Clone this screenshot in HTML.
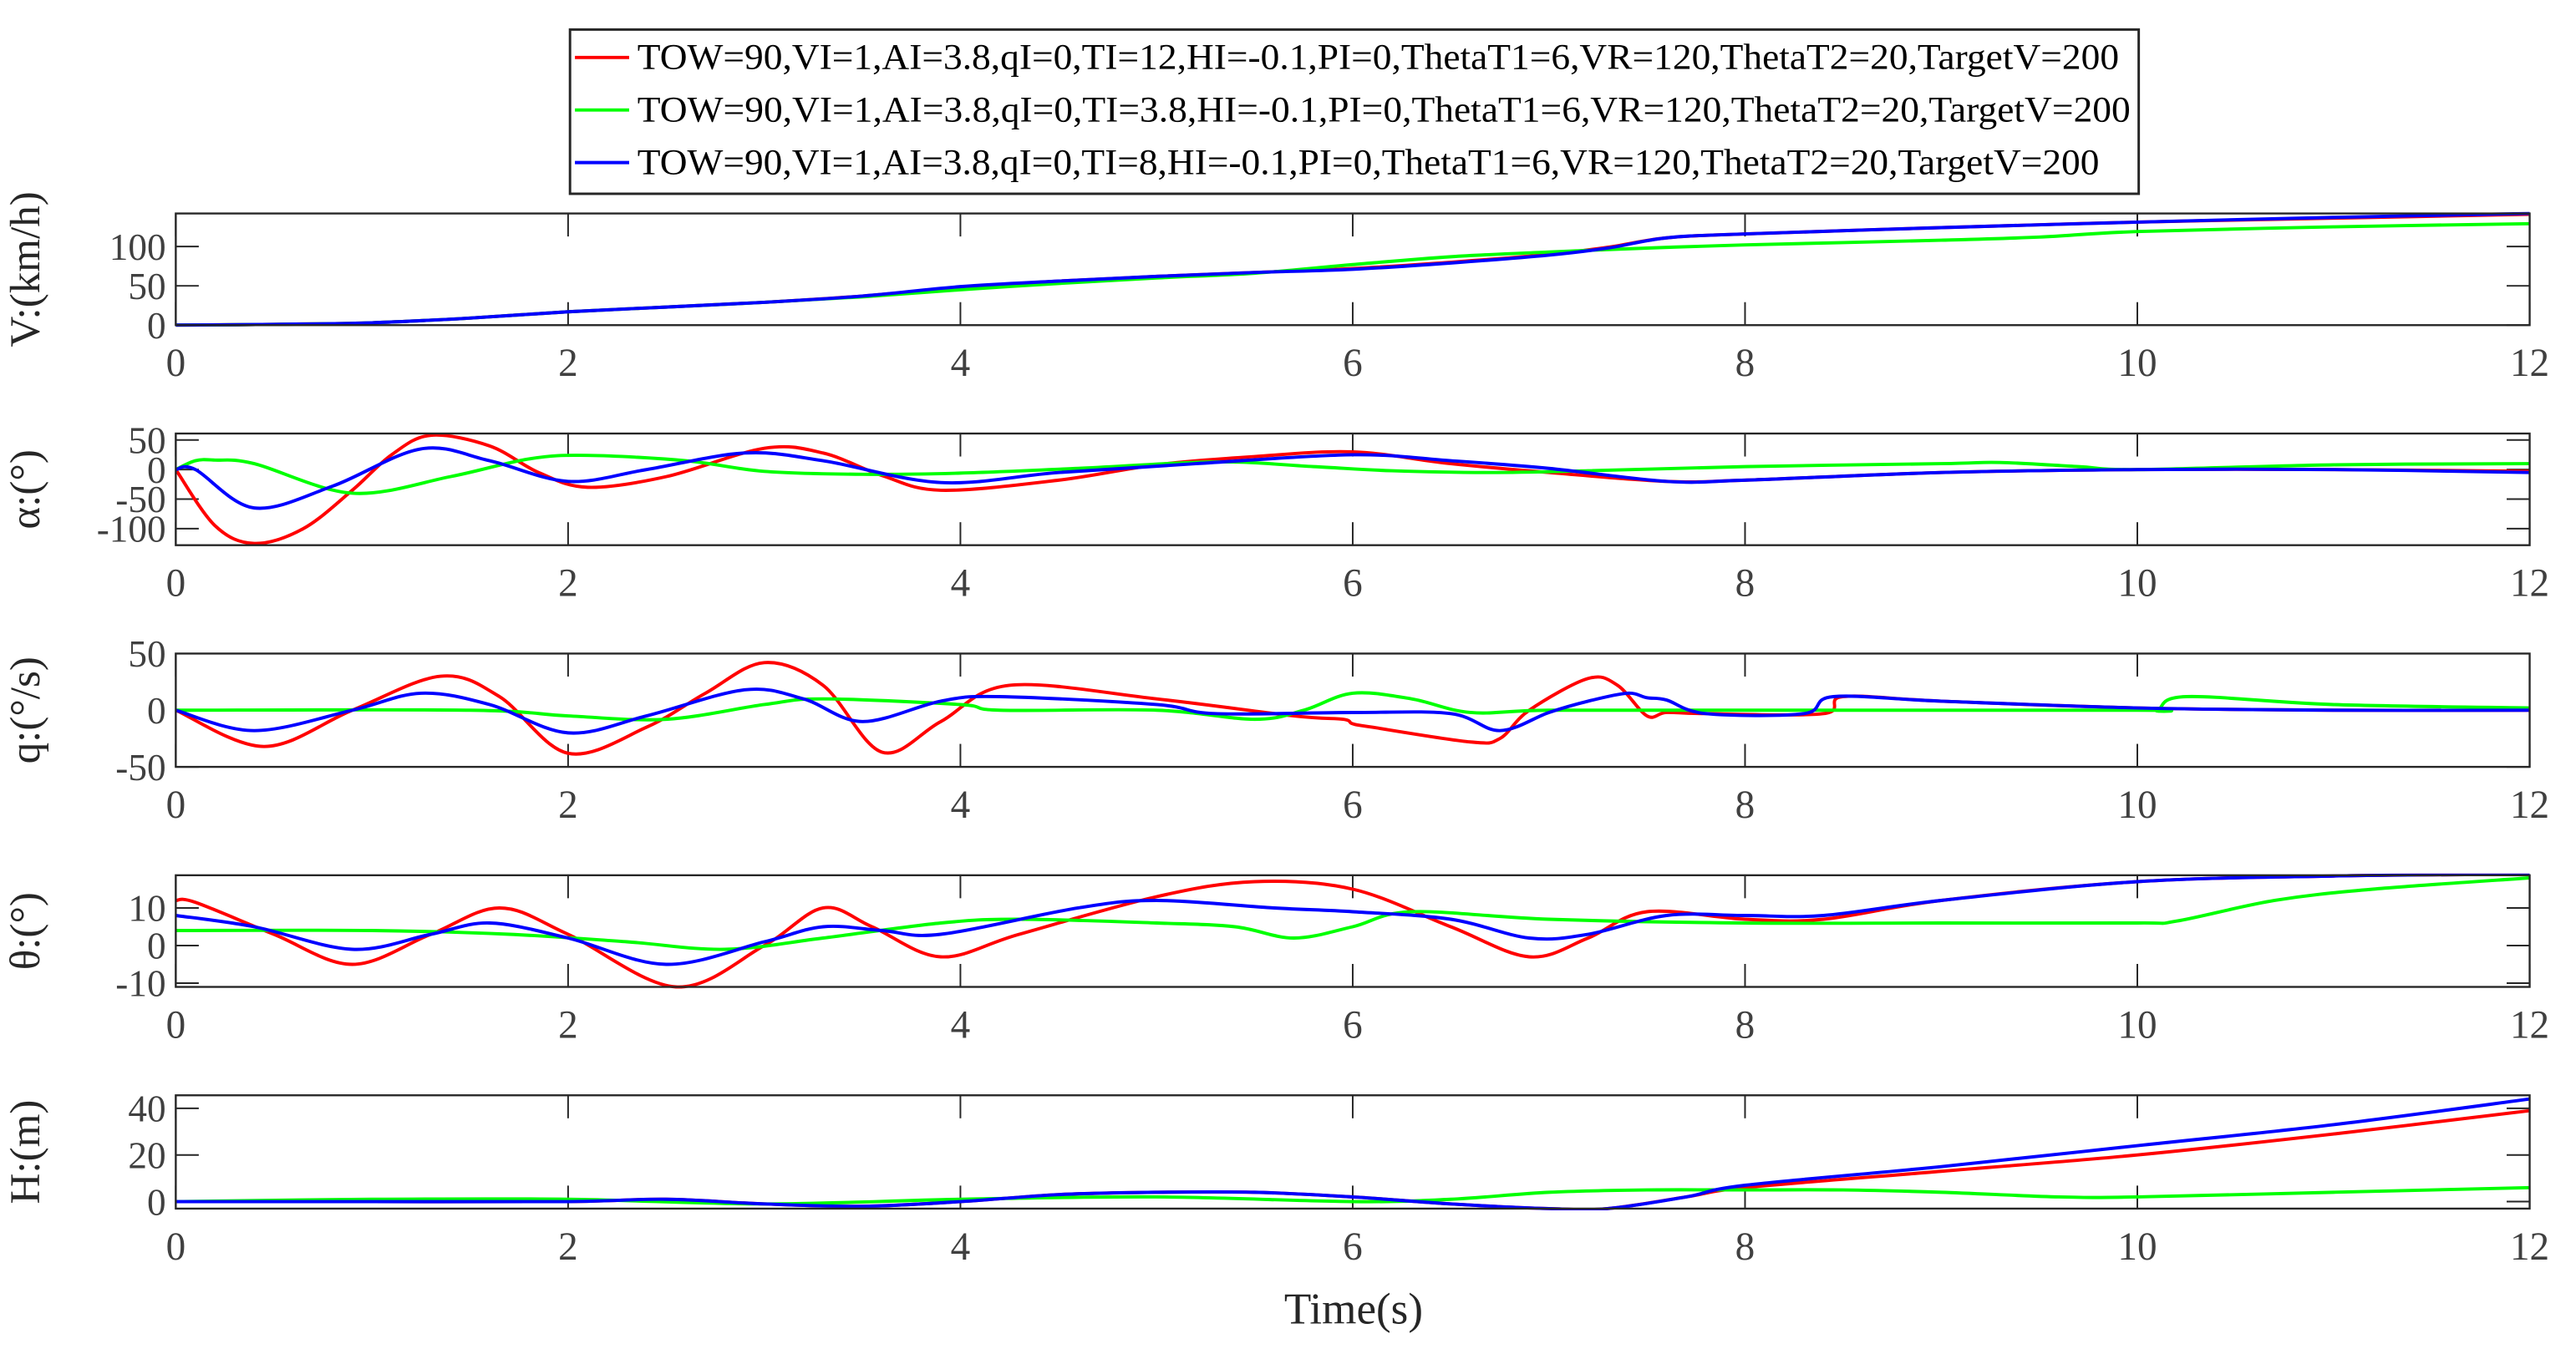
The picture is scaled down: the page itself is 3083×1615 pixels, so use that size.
<!DOCTYPE html>
<html><head><meta charset="utf-8"><style>
html,body{margin:0;padding:0;background:#fff;}
svg{display:block;}
text{font-family:"Liberation Serif",serif;}
</style></head><body>
<svg id="chart" width="3083" height="1615" viewBox="0 0 1568.2 821.5" xmlns="http://www.w3.org/2000/svg">
<g id="legend">
<rect x="347" y="18" width="955" height="100" fill="#fff" stroke="#262626" stroke-width="1.5"/>
<line x1="350" y1="35" x2="383" y2="35" stroke="#ff0000" stroke-width="2"/>
<text x="388" y="42" font-size="22" textLength="902" lengthAdjust="spacingAndGlyphs">TOW=90,VI=1,AI=3.8,qI=0,TI=12,HI=-0.1,PI=0,ThetaT1=6,VR=120,ThetaT2=20,TargetV=200</text>
<line x1="350" y1="67" x2="383" y2="67" stroke="#00ff00" stroke-width="2"/>
<text x="388" y="74" font-size="22" textLength="909" lengthAdjust="spacingAndGlyphs">TOW=90,VI=1,AI=3.8,qI=0,TI=3.8,HI=-0.1,PI=0,ThetaT1=6,VR=120,ThetaT2=20,TargetV=200</text>
<line x1="350" y1="99" x2="383" y2="99" stroke="#0000ff" stroke-width="2"/>
<text x="388" y="106" font-size="22" textLength="890" lengthAdjust="spacingAndGlyphs">TOW=90,VI=1,AI=3.8,qI=0,TI=8,HI=-0.1,PI=0,ThetaT1=6,VR=120,ThetaT2=20,TargetV=200</text>
</g>
<text x="824" y="806" font-size="27" text-anchor="middle" fill="#262626">Time(s)</text>
</svg>
<script>
// ---- data ----
const xTicks = [0, 2, 4, 6, 8, 10, 12];
const seriesNames = ["red", "green", "blue"];
const seriesColors = ["#ff0000", "#00ff00", "#0000ff"];

// Panel 1: V (km/h)
const vRedT = [0, 0.5, 1, 1.5, 2, 2.5, 3, 3.5, 4, 4.5, 5, 5.5, 6, 6.5, 7, 7.3, 7.6, 8, 9, 10, 11, 12];
const vRedY = [0, 1, 3, 9, 17, 23, 29, 37, 48, 56, 62, 67, 72, 80, 90, 99, 111, 116, 124, 131, 136, 141];
const vGreenT = [0, 0.5, 1, 1.5, 2, 2.5, 3, 3.5, 4, 4.5, 5, 5.5, 6, 6.5, 7, 7.5, 8, 9, 9.5, 10, 11, 12];
const vGreenY = [0, 1, 3, 9, 17, 23, 29, 36, 45, 53, 60, 66, 77, 87, 93, 98, 102, 108, 112, 119, 125, 129];
const vBlueT = vRedT;
const vBlueY = [0, 1, 3, 9, 17, 23, 29, 37, 49, 56, 62, 67, 71, 79, 89, 98, 111, 116, 124, 131, 137, 142];

// Panel 2: alpha (deg)
const aRedT = [0, 0.2, 0.4, 0.65, 0.9, 1.1, 1.3, 1.6, 1.85, 2.1, 2.5, 3.0, 3.3, 3.6, 3.9, 4.5, 5, 5.5, 6.0, 6.5, 7, 7.6, 8, 9, 10, 11, 12];
const aRedY = [0, -95, -125, -100, -35, 25, 58, 40, -5, -30, -12, 36, 28, -10, -35, -18, 8, 22, 30, 10, -5, -20, -18, -5, 0, 0, -3];
const aGreenT = [0, 0.1, 0.2, 0.4, 0.9, 1.4, 1.8, 2.1, 2.6, 3.0, 3.5, 4, 4.6, 5.3, 5.8, 6.2, 6.7, 7.2, 8, 9, 9.3, 9.7, 10, 11, 12];
const aGreenY = [0, 15, 16, 10, -40, -12, 18, 24, 15, -3, -8, -6, 2, 13, 5, -2, -5, -2, 5, 10, 12, 5, 0, 8, 10];
const aBlueT = [0, 0.1, 0.4, 0.8, 1.25, 1.6, 2.0, 2.4, 2.9, 3.3, 3.9, 4.5, 5.2, 6.0, 6.5, 7, 7.6, 8, 9, 10, 11, 12];
const aBlueY = [0, 0, -65, -28, 35, 15, -20, 0, 28, 15, -22, -5, 10, 25, 15, 2, -20, -18, -5, 0, 0, -5];

// Panel 3: q (deg/s)
const qRedT = [0, 0.45, 0.9, 1.35, 1.65, 2.0, 2.4, 2.7, 3.0, 3.3, 3.6, 3.9, 4.25, 5, 5.7, 5.95, 6.0, 6.1, 6.6, 6.75, 6.9, 7.2, 7.35, 7.5, 7.6, 7.8, 8.4, 8.5, 9, 10, 11, 12];
const qRedY = [0, -32, 0, 30, 12, -38, -15, 15, 42, 22, -37, -10, 22, 10, -5, -8, -12, -15, -28, -25, 0, 28, 22, -5, -2, -3, -3, 12, 8, 2, 0, 0];
const qGreenT = [0, 1.5, 2.0, 2.5, 3.0, 3.3, 4, 4.2, 5, 5.5, 5.75, 6.0, 6.3, 6.6, 7, 8, 10, 10.1, 10.25, 11, 12];
const qGreenY = [0, 0, -5, -8, 5, 10, 5, 0, 0, -8, 0, 15, 10, -2, 0, 0, 0, 0, 12, 5, 2];
const qBlueT = [0, 0.4, 0.9, 1.25, 1.6, 2.0, 2.4, 2.9, 3.2, 3.5, 3.9, 4.2, 5, 5.3, 6, 6.5, 6.75, 7, 7.2, 7.4, 7.5, 7.6, 7.8, 8.3, 8.45, 9, 10, 11, 12];
const qBlueY = [0, -18, 0, 15, 5, -20, -5, 18, 10, -10, 8, 12, 5, -3, -2, -3, -18, -2, 8, 15, 11, 9, -3, -3, 12, 8, 2, 0, 0];

// Panel 4: theta (deg)
const thRedT = [0, 0.1, 0.5, 0.9, 1.3, 1.65, 2, 2.55, 3, 3.3, 3.55, 3.9, 4.3, 5, 5.5, 6, 6.5, 6.9, 7.2, 7.5, 8, 8.4, 9, 10, 11, 12];
const thRedY = [12, 11.5, 3, -5, 3, 10, 3, -11, 0, 10, 5, -3, 3, 13, 17, 15, 5, -3, 2, 9, 7, 7, 12, 17, 18.5, 19];
const thGreenT = [0, 1, 1.7, 2.3, 2.8, 3.3, 3.9, 4.3, 5, 5.4, 5.7, 6, 6.3, 7, 8, 9, 10, 10.2, 10.7, 11.2, 12];
const thGreenY = [4, 4, 3, 1, -1, 2, 6, 7, 6, 5, 2, 5, 9, 7, 6, 6, 6, 6.5, 12, 15, 18];
const thBlueT = [0, 0.4, 0.9, 1.3, 1.6, 2, 2.5, 3, 3.3, 3.6, 3.9, 4.6, 5, 5.6, 6, 6.5, 6.9, 7.2, 7.6, 8, 8.4, 9, 10, 11, 12];
const thBlueY = [8, 5, -1, 3, 6, 2, -5, 1, 5, 4, 3, 10, 12, 10, 9, 7, 2, 3, 8, 8, 8, 12, 17, 18.5, 19];

// Panel 5: H (m)
const hRedT = [0, 1, 2, 2.5, 3, 3.5, 4, 4.5, 5, 5.5, 6, 6.5, 7, 7.3, 7.7, 8, 9, 10, 11, 12];
const hRedY = [0, 0, 0, 1, -1, -2, 0, 3, 4, 4, 2, -1, -3, -3, 2, 6, 13, 20, 29, 39];
const hGreenT = [0, 1, 2, 3, 4, 5, 6, 6.5, 7, 7.5, 8, 8.5, 9, 9.6, 10, 11, 12];
const hGreenY = [0, 1, 1, -1, 1, 2, 0, 1, 4, 5, 5, 5, 4, 2, 2, 4, 6];
const hBlueT = hRedT;
const hBlueY = [0, 0, 0, 1, -1, -2, 0, 3, 4, 4, 2, -1, -3, -3, 2, 7, 15, 24, 33, 44];

const yTicksV = [0, 50, 100];
const yTicksA = [-100, -50, 0, 50];
const yTicksQ = [-50, 0, 50];
const yTicksTh = [-10, 0, 10];
const yTicksH = [0, 20, 40];

// ---- layout ----
const NS = "http://www.w3.org/2000/svg";
const svg = document.getElementById("chart");
const X0 = 107, X1 = 1540;
function xScale(t) { return X0 + (t / 12) * (X1 - X0); }

const panels = [
  {key: "velocity", label: "V:(km/h)", top: 130, bot: 198, ymin: 0, ymax: 142, ticks: yTicksV,
   series: [[vRedT, vRedY], [vGreenT, vGreenY], [vBlueT, vBlueY]]},
  {key: "alpha", label: "α:(°)", top: 264, bot: 332, ymin: -128, ymax: 61, ticks: yTicksA,
   series: [[aRedT, aRedY], [aGreenT, aGreenY], [aBlueT, aBlueY]]},
  {key: "pitch-rate", label: "q:(°/s)", top: 398, bot: 467, ymin: -50, ymax: 50, ticks: yTicksQ,
   series: [[qRedT, qRedY], [qGreenT, qGreenY], [qBlueT, qBlueY]]},
  {key: "theta", label: "θ:(°)", top: 533, bot: 601, ymin: -11, ymax: 18.7, ticks: yTicksTh,
   series: [[thRedT, thRedY], [thGreenT, thGreenY], [thBlueT, thBlueY]]},
  {key: "height", label: "H:(m)", top: 667, bot: 736, ymin: -3, ymax: 45.6, ticks: yTicksH,
   series: [[hRedT, hRedY], [hGreenT, hGreenY], [hBlueT, hBlueY]]}
];

function mk(tag, attrs, parent) {
  const e = document.createElementNS(NS, tag);
  for (const k in attrs) e.setAttribute(k, attrs[k]);
  parent.appendChild(e);
  return e;
}

function smoothPath(pts) {
  if (pts.length < 2) return "";
  let d = "M" + pts[0][0].toFixed(2) + "," + pts[0][1].toFixed(2);
  for (let i = 0; i < pts.length - 1; i++) {
    const p0 = pts[Math.max(0, i - 1)], p1 = pts[i], p2 = pts[i + 1], p3 = pts[Math.min(pts.length - 1, i + 2)];
    const c1x = p1[0] + (p2[0] - p0[0]) / 6, c1y = p1[1] + (p2[1] - p0[1]) / 6;
    const c2x = p2[0] - (p3[0] - p1[0]) / 6, c2y = p2[1] - (p3[1] - p1[1]) / 6;
    d += " C" + c1x.toFixed(2) + "," + c1y.toFixed(2) + " " + c2x.toFixed(2) + "," + c2y.toFixed(2) + " " + p2[0].toFixed(2) + "," + p2[1].toFixed(2);
  }
  return d;
}

panels.forEach(function (p) {
  const g = mk("g", {}, svg);
  
  
  const ys = function (v) { return p.bot - (v - p.ymin) / (p.ymax - p.ymin) * (p.bot - p.top); };
  const clipId = "clip-" + p.key;
  const cp = mk("clipPath", {id: clipId}, g);
  mk("rect", {x: X0, y: p.top - 1, width: X1 - X0, height: p.bot - p.top + 2}, cp);

  xTicks.forEach(function (t) {
    const x = xScale(t);
    const tb = mk("line", {x1: x, y1: p.bot, x2: x, y2: p.bot - 14, stroke: "#262626", "stroke-width": 1}, g);
    
    
    const tt = mk("line", {x1: x, y1: p.top, x2: x, y2: p.top + 14, stroke: "#262626", "stroke-width": 1}, g);
    
    
    const lb = mk("text", {x: x, y: p.bot + 31, "font-size": 24, "text-anchor": "middle", fill: "#404040"}, g);
    
    
    lb.textContent = String(t);
  });
  p.ticks.forEach(function (v) {
    const y = ys(v);
    const tl = mk("line", {x1: X0, y1: y, x2: X0 + 14, y2: y, stroke: "#262626", "stroke-width": 1}, g);
    
    
    const tr = mk("line", {x1: X1, y1: y, x2: X1 - 14, y2: y, stroke: "#262626", "stroke-width": 1}, g);
    
    
    const lb = mk("text", {x: X0 - 6, y: y + 8, "font-size": 23, "text-anchor": "end", fill: "#404040"}, g);
    
    
    lb.textContent = String(v);
  });
  const cy = (p.top + p.bot) / 2;
  const yt = mk("text", {x: 0, y: 0, "font-size": 26, "text-anchor": "middle", fill: "#262626",
    transform: "translate(24," + cy + ") rotate(-90)"}, g);
  
  
  yt.textContent = p.label;

  const sg = mk("g", {"clip-path": "url(#" + clipId + ")"}, g);
  p.series.forEach(function (s, i) {
    const pts = s[0].map(function (t, j) { return [xScale(t), ys(s[1][j])]; });
    const path = mk("path", {d: smoothPath(pts), fill: "none", stroke: seriesColors[i], "stroke-width": 2}, sg);
    
    
  });

  const box = mk("rect", {x: X0, y: p.top, width: X1 - X0, height: p.bot - p.top, fill: "none", stroke: "#262626", "stroke-width": 1.2}, g);
  
  
});
</script>
</body></html>
